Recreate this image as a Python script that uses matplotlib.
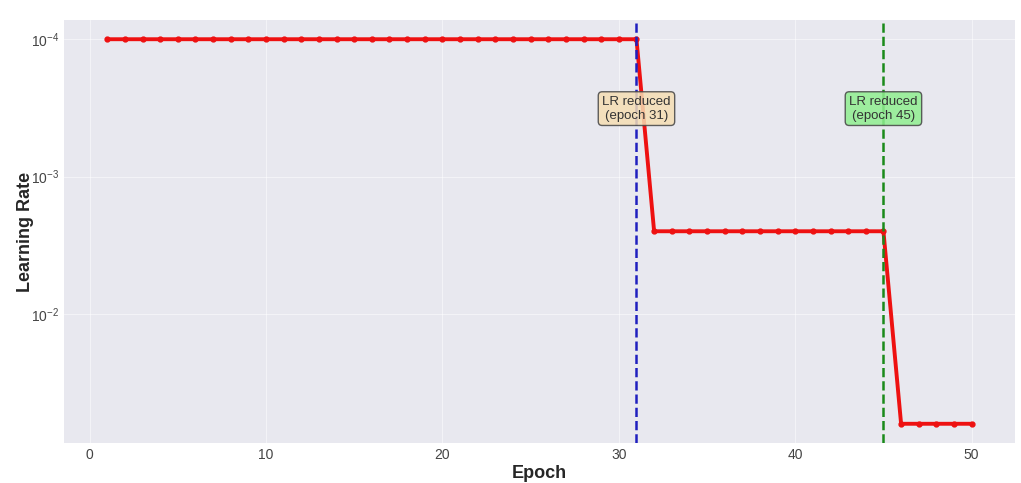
import matplotlib.pyplot as plt

plt.style.use("seaborn-v0_8-darkgrid")
plt.rcParams["font.family"] = ["Liberation Sans", "DejaVu Sans"]

# learning rate per epoch (plateau schedule)
epochs = list(range(1, 51))
lr_phase1 = [1e-4] * 31
lr_phase2 = [2.5e-3] * 14
lr_phase3 = [6.3e-2] * 5
learning_rate = lr_phase1 + lr_phase2 + lr_phase3

reduce_epochs = [31, 45]
reduce_colors = ["#1f1fbf", "#1a8a1a"]
box_colors = ["wheat", "lightgreen"]
label_y = 3.2e-4

fig = plt.figure(figsize=(10.21, 4.83), dpi=100)
ax = fig.add_axes([0.0627, 0.0828, 0.9313, 0.8758])
ax.set_facecolor("#e8e8ef")

ax.plot(epochs, learning_rate, color="#ee1111", linewidth=2.8, marker="o", markersize=3.5)

for ep, c, bc in zip(reduce_epochs, reduce_colors, box_colors):
  ax.axvline(ep, color=c, linestyle="--", linewidth=1.8)
  ax.text(ep, label_y, f"LR reduced\n(epoch {ep})", ha="center", va="center",
          fontsize=9.5, color="#333333",
          bbox=dict(boxstyle="round,pad=0.3", facecolor=bc, edgecolor="#444444", alpha=0.85))

ax.set_yscale("log")
ax.invert_yaxis()
ax.set_xlabel("Epoch", fontsize=13, fontweight="bold", labelpad=2)
ax.set_ylabel("Learning Rate", fontsize=13, fontweight="bold", labelpad=-2)
ax.tick_params(labelsize=10, colors="#444444")
ax.grid(True, which="major", color="white", linewidth=0.8, alpha=0.5)

plt.savefig("out.png", dpi=100)
